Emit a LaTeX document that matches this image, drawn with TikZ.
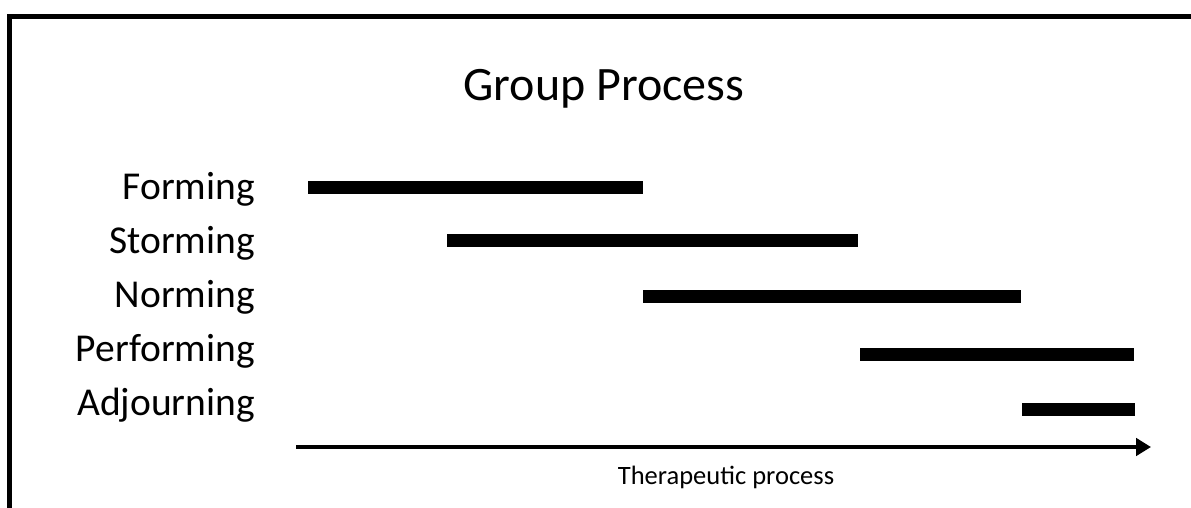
\documentclass[tikz,border=0pt]{standalone}
\usepackage{fontspec}
\setmainfont{Carlito}
\usepackage{tikz}
\usetikzlibrary{arrows.meta,positioning}

\begin{document}
\begin{tikzpicture}[x=1pt,y=-1pt,>=Triangle,
  stage/.style={anchor=base east,inner sep=0pt,font=\fontsize{39.5}{42}\selectfont},
  bar/.style={line width=13pt}]
  \useasboundingbox (0,0) rectangle (1191,508);
  \draw[line width=5pt] (9.5,508) |- (1191,16.5);
  \node[inner sep=0pt,anchor=base,font=\fontsize{48}{52}\selectfont] (title) at (604,101) {Group Process};
  \node[stage] (forming) at (255,199) {Forming};
  \node[stage] (storming) at (255,253) {Storming};
  \node[stage] (norming) at (255,307) {Norming};
  \node[stage] (performing) at (255,361) {Performing};
  \node[stage] (adjourning) at (255,415) {Adjourning};
  \draw[bar] (308,187.5) -- (643,187.5);
  \draw[bar] (447,240.5) -- (858,240.5);
  \draw[bar] (643,296) -- (1021,296);
  \draw[bar] (860,354) -- (1134,354);
  \draw[bar] (1022,409.5) -- (1135,409.5);
  \coordinate (tstart) at (296,447);
  \coordinate (tend) at (1149,447);
  \draw[->,line width=4pt,shorten >=-2pt] (tstart) -- (tend);
  \node[inner sep=0pt,anchor=base,font=\fontsize{26.5}{29}\selectfont] (therapy) at (726,484) {Therapeutic process};
\end{tikzpicture}
\end{document}
